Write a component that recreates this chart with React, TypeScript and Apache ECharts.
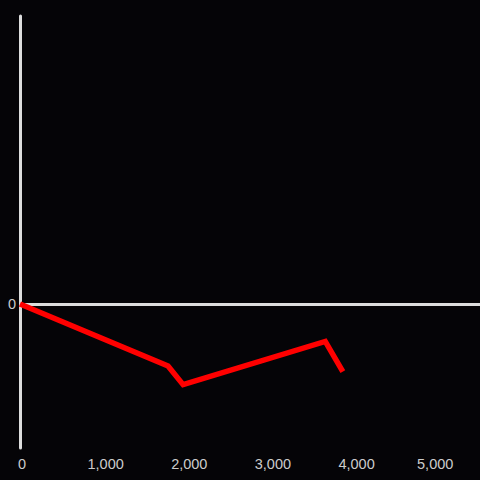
import React, { useEffect, useRef } from "react";
import * as echarts from "echarts";

const xValues = [0, 1770, 1950, 3650, 3860];
const yValues = [0, -43, -56, -26, -47];
const xTicks = [0, 1000, 2000, 3000, 4000, 5000];

export default function App() {
  const ref = useRef<HTMLDivElement>(null);
  useEffect(() => {
    if (!ref.current) return;
    const chart = echarts.init(ref.current, null, { renderer: "svg" });
    chart.setOption({
      animation: false,
      backgroundColor: "#050407",
      grid: { left: 20, right: 0, top: 16, bottom: 32 },
      xAxis: {
        type: "value",
        min: 0,
        max: 5500,
        interval: 1000,
        axisLine: { show: false, onZero: false },
        axisTick: { show: false },
        splitLine: { show: false },
        axisLabel: {
          color: "#cccccc",
          fontSize: 14.5,
          fontFamily: "Liberation Sans",
          margin: 8,
          padding: [0, 0, 0, 4],
          showMaxLabel: false,
          formatter: (v: number) => {
            if (!xTicks.includes(v)) return "";
            const s = v.toLocaleString("en-US");
            return v === 5000 ? "{e|" + s + "}" : s;
          },
          rich: {
            e: {
              color: "#cccccc",
              fontSize: 14.5,
              fontFamily: "Liberation Sans",
              padding: [0, 10, 0, 0],
            },
          },
        },
      },
      yAxis: {
        type: "value",
        min: -100,
        max: 200,
        interval: 100,
        axisLine: { show: true, onZero: false, lineStyle: { color: "#dddddd", width: 3 } },
        axisTick: { show: false },
        splitLine: { show: false },
        axisLabel: {
          color: "#cccccc",
          fontSize: 14.5,
          fontFamily: "Liberation Sans",
          margin: 4,
          formatter: (v: number) => (v === 0 ? "0" : ""),
        },
      },
      series: [
        {
          type: "line",
          data: xValues.map((x, i) => [x, yValues[i]]),
          showSymbol: false,
          lineStyle: { color: "#ff0000", width: 5.5, join: "miter", cap: "butt" },
          z: 3,
          markLine: {
            silent: true,
            symbol: ["none", "none"],
            label: { show: false },
            lineStyle: { color: "#dddddd", width: 3, type: "solid" },
            data: [{ yAxis: 0 }],
            z: 1,
          },
        },
      ],
    });
    return () => chart.dispose();
  }, []);
  return <div ref={ref} style={{ width: 480, height: 480, position: "absolute", left: 0, top: 0 }} />;
}
